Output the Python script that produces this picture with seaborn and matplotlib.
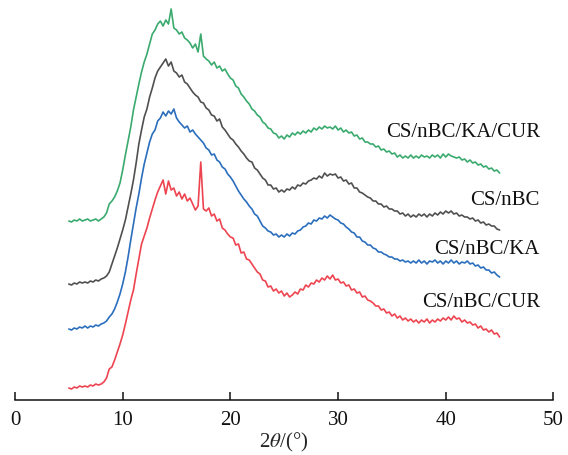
import numpy as np
import pandas as pd
import matplotlib
matplotlib.use("Agg")
import matplotlib.pyplot as plt
import seaborn as sns

# XRD patterns, stacked (intensity in a.u., offsets included), 2theta 5..45 step 0.25
two_theta = np.arange(5, 45.01, 0.25)

cs_nbc_cur = [
    12, 11, 13, 12, 14, 13, 14, 13,
    15, 14, 16, 15, 16, 18, 22, 31,
    33, 40, 48, 56, 65, 76, 88, 100,
    110, 126, 141, 156, 164, 172, 182, 191,
    200, 208, 214, 220, 206, 219, 210, 212,
    204, 208, 201, 206, 199, 202, 196, 190,
    194, 238, 191, 189, 192, 184, 186, 179,
    181, 172, 170, 166, 163, 162, 155, 156,
    147, 148, 141, 140, 136, 132, 128, 126,
    120, 119, 113, 114, 109, 111, 107, 109,
    104, 107, 103, 105, 108, 106, 111, 110,
    115, 113, 117, 116, 120, 118, 122, 120,
    124, 121, 125, 120, 121, 117, 118, 114,
    115, 110, 111, 107, 108, 103, 104, 100,
    99, 97, 94, 94, 90, 91, 87, 88,
    84, 86, 82, 84, 80, 82, 79, 81,
    78, 80, 77, 80, 78, 81, 77, 80,
    78, 81, 79, 82, 80, 83, 80, 84,
    81, 82, 78, 80, 77, 78, 75, 76,
    72, 74, 70, 71, 68, 70, 66, 67,
    63,
]

cs_nbc_ka = [
    71, 70, 72, 71, 73, 72, 74, 72,
    74, 73, 75, 74, 76, 77, 79, 83,
    86, 91, 98, 106, 116, 128, 143, 160,
    176, 192, 206, 222, 236, 247, 258, 266,
    270, 279, 282, 288, 284, 289, 286, 291,
    282, 278, 275, 272, 274, 268, 270, 266,
    263, 260, 257, 252, 250, 245, 246, 240,
    238, 233, 231, 226, 223, 219, 214, 209,
    205, 201, 198, 194, 191, 186, 184, 179,
    174, 172, 169, 168, 165, 166, 163, 165,
    163, 166, 164, 167, 166, 169, 170, 173,
    174, 177, 176, 180, 179, 182, 181, 184,
    182, 185, 183, 181, 180, 177, 176, 173,
    171, 168, 167, 163, 163, 159, 158, 155,
    155, 152, 151, 148, 148, 146, 145, 143,
    143, 141, 141, 139, 140, 138, 139, 137,
    139, 137, 140, 137, 139, 136, 139, 138,
    140, 137, 139, 136, 139, 137, 140, 137,
    139, 136, 138, 137, 139, 136, 137, 134,
    135, 132, 133, 130, 130, 127, 128, 125,
    123,
]

cs_nbc = [
    116, 115, 117, 116, 118, 117, 118, 117,
    119, 118, 120, 119, 121, 122, 124, 128,
    136, 144, 152, 161, 170, 180, 193, 206,
    220, 237, 256, 270, 283, 291, 303, 312,
    322, 329, 333, 337, 341, 334, 338, 329,
    327, 323, 325, 318, 316, 312, 308, 305,
    303, 298, 297, 292, 290, 285, 284, 279,
    281, 273, 270, 266, 262, 260, 256, 253,
    249, 246, 242, 239, 238, 232, 230, 226,
    222, 220, 215, 215, 211, 212, 208, 210,
    208, 211, 210, 213, 211, 215, 214, 217,
    216, 219, 220, 222, 221, 224, 222, 227,
    224, 226, 225, 226, 222, 223, 219, 220,
    216, 217, 212, 212, 208, 207, 205, 203,
    202, 199, 199, 196, 196, 193, 194, 191,
    191, 189, 189, 186, 187, 184, 186, 183,
    185, 183, 186, 184, 186, 183, 186, 184,
    187, 185, 188, 186, 189, 187, 189, 186,
    187, 184, 185, 183, 183, 181, 182, 179,
    180, 177, 178, 175, 176, 174, 174, 171,
    170,
]

cs_nbc_ka_cur = [
    179, 178, 180, 179, 181, 179, 180, 181,
    179, 180, 181, 179, 181, 183, 187, 196,
    199, 203, 209, 217, 230, 245, 259, 273,
    290, 303, 316, 328, 338, 346, 356, 366,
    370, 376, 379, 374, 380, 376, 391, 372,
    370, 366, 368, 362, 360, 357, 352, 356,
    348, 366, 344, 341, 339, 335, 338, 332,
    334, 329, 331, 326, 322, 320, 314, 312,
    306, 303, 299, 296, 291, 289, 285, 283,
    278, 276, 272, 271, 267, 266, 262, 264,
    261, 265, 263, 267, 265, 268, 266, 269,
    267, 270, 268, 272, 270, 273, 271, 274,
    272, 273, 271, 274, 270, 272, 268, 270,
    267, 268, 264, 265, 261, 262, 258, 258,
    256, 256, 253, 254, 250, 251, 248, 249,
    246, 247, 243, 245, 242, 244, 242, 245,
    242, 244, 242, 245, 243, 244, 242, 245,
    243, 245, 242, 246, 243, 246, 244, 243,
    242, 243, 240, 241, 238, 240, 237, 238,
    235, 236, 233, 234, 231, 232, 229, 230,
    227,
]

samples = ["CS/nBC/CUR", "CS/nBC/KA", "CS/nBC", "CS/nBC/KA/CUR"]
series = [cs_nbc_cur, cs_nbc_ka, cs_nbc, cs_nbc_ka_cur]
colors = ["#ee4450", "#2a6ebd", "#505050", "#3aaa6e"]
label_y = [99, 152, 201, 269]

frames = []
for name, vals in zip(samples, series):
    frames.append(pd.DataFrame({"two_theta": two_theta, "intensity": vals, "sample": name}))
df = pd.concat(frames, ignore_index=True)

sns.set_style("ticks")
plt.rcParams["font.family"] = ["Liberation Serif", "DejaVu Serif"]
plt.rcParams["mathtext.fontset"] = "stix"

fig = plt.figure(figsize=(5.68, 4.56), dpi=100)
ax = fig.add_axes([0.0264, 0.1206, 0.948, 0.8684])

sns.lineplot(data=df, x="two_theta", y="intensity", hue="sample",
             palette=dict(zip(samples, colors)), estimator=None,
             linewidth=1.2, legend=False, ax=ax)

for name, c, ly in zip(samples, colors, label_y):
    ax.text(48.75, ly, name, ha="right", va="center", fontsize=15, color="#111111")

ax.set_xlim(0, 50)
ax.set_ylim(0, 396)
ax.set_xticks([0, 10, 20, 30, 40, 50])
ax.set_yticks([])
ax.set_ylabel("")
ax.set_xlabel(r"2$\theta$/(°)", fontsize=15, labelpad=1)
ax.tick_params(axis="x", direction="in", length=6, width=1.1, labelsize=15, pad=7, colors="#111111")
for s in ["left", "top", "right"]:
    ax.spines[s].set_visible(False)
ax.spines["bottom"].set_linewidth(1.1)
ax.spines["bottom"].set_color("#111111")

fig.savefig("out.png", dpi=100)
